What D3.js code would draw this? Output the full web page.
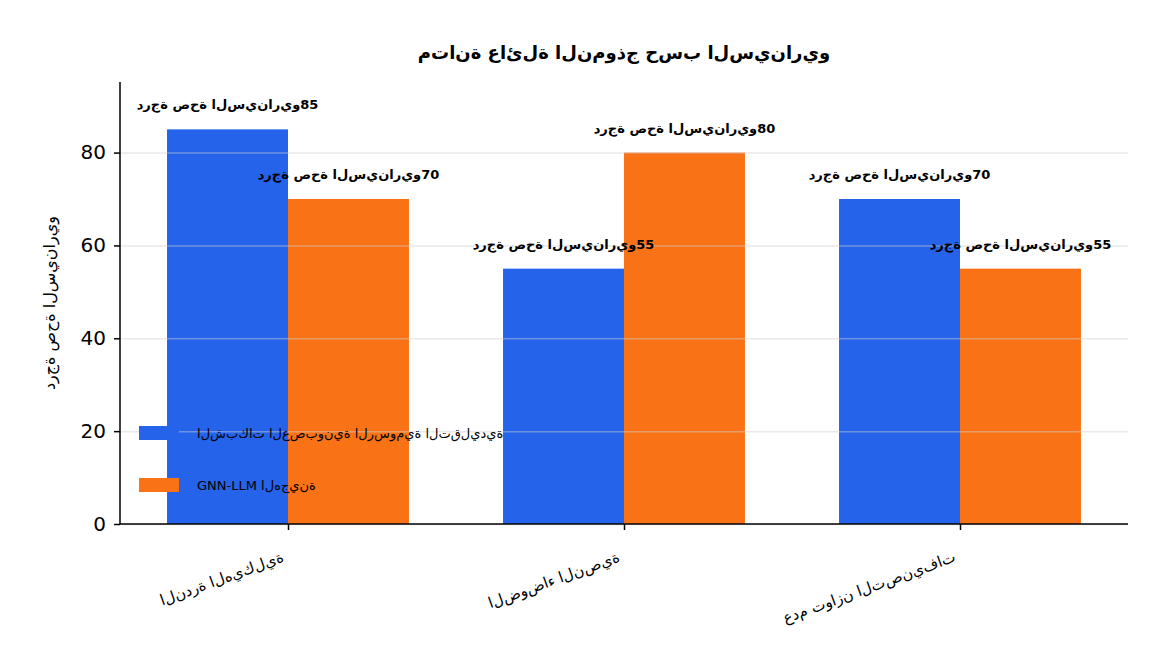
<!DOCTYPE html>
<html>
<head>
<meta charset="utf-8">
<script src="https://cdn.jsdelivr.net/npm/d3@7"></script>
<style>
  body { margin: 0; background: #fff; }
  svg text { font-family: "DejaVu Sans", sans-serif; }
</style>
</head>
<body>
<div id="chart"></div>
<script>
const title = "متانة عائلة النموذج حسب السيناريو";
const yLabel = "درجة صحة السيناريو";
const categories = ["الندرة الهيكلية", "الضوضاء النصية", "عدم توازن التصنيفات"];
const seriesNames = ["الشبكات العصبونية الرسومية التقليدية", "GNN-LLM الهجينة"];
const traditionalGnn = [85, 55, 70];
const hybridGnnLlm = [70, 80, 55];
const yTicks = [0, 20, 40, 60, 80];
const colors = ["#2563eb", "#f97316"];

// The source laid Arabic out letter by letter, left to right and unjoined.
// Isolated presentation forms stop joining; an LRM after each letter keeps
// the letters in left-to-right order.
const isolated = {
    "ء": "\uFE80", "ئ": "\uFE89", "ا": "\uFE8D", "ب": "\uFE8F", "ة": "\uFE93",
    "ت": "\uFE95", "ج": "\uFE9D", "ح": "\uFEA1", "د": "\uFEA9", "ذ": "\uFEAB",
    "ر": "\uFEAD", "ز": "\uFEAF", "س": "\uFEB1", "ش": "\uFEB5", "ص": "\uFEB9",
    "ض": "\uFEBD", "ع": "\uFEC9", "ف": "\uFED1", "ق": "\uFED5", "ك": "\uFED9",
    "ل": "\uFEDD", "م": "\uFEE1", "ن": "\uFEE5", "ه": "\uFEE9", "و": "\uFEED",
    "ي": "\uFEF1"
};
const ltrText = s => Array.from(s).map(c => (isolated[c] || c) + "\u200E").join("");

const W = 1152, H = 672;
const margin = { top: 82, right: 24, bottom: 148, left: 120 };
const width = W - margin.left - margin.right;
const height = H - margin.top - margin.bottom;

const svg = d3.select("#chart").append("svg")
    .attr("width", W)
    .attr("height", H);

const g = svg.append("g")
    .attr("transform", `translate(${margin.left},${margin.top})`);

// Scales
const x = d3.scaleLinear().domain([-0.5, categories.length - 0.5]).range([0, width]);
const y = d3.scaleLinear().domain([0, 95.2]).range([height, 0]);
const barW = x(0.36) - x(0);

const series = [traditionalGnn, hybridGnnLlm];

// Bars
series.forEach((vals, s) => {
    g.selectAll(".bar" + s)
        .data(vals)
        .enter().append("rect")
        .attr("x", (d, i) => s === 0 ? x(i) - barW : x(i))
        .attr("y", d => y(d))
        .attr("width", barW)
        .attr("height", d => height - y(d))
        .attr("fill", colors[s]);
});

// Gridlines (drawn over the bars, faint)
g.append("g")
    .call(d3.axisLeft(y).tickValues(yTicks).tickSize(-width).tickFormat(""))
    .call(a => a.select(".domain").remove())
    .selectAll("line")
    .attr("stroke", "#cfcfcf")
    .attr("stroke-opacity", 0.45)
    .attr("stroke-width", 1.5);

// Axes
const yAxis = g.append("g")
    .call(d3.axisLeft(y).tickValues(yTicks).tickSize(6).tickPadding(8));
yAxis.select(".domain").attr("stroke-width", 1.5).attr("d", `M0,${height}V0`);
yAxis.selectAll("line").attr("stroke-width", 1.5);
yAxis.selectAll("text").attr("font-size", 20).attr("fill", "#000");

const xAxis = g.append("g")
    .attr("transform", `translate(0,${height})`)
    .call(d3.axisBottom(x).tickValues(d3.range(categories.length)).tickSize(6).tickFormat(""));
xAxis.select(".domain").attr("stroke-width", 1.5).attr("d", `M0,0H${width}`);
xAxis.selectAll("line").attr("stroke-width", 1.5);

// Rotated category labels
g.append("g").selectAll("text")
    .data(categories)
    .enter().append("text")
    .attr("transform", (d, i) => `translate(${x(i) - 7},${height + 27}) rotate(-20)`)
    .attr("text-anchor", "end")
    .attr("dy", "0.71em")
    .attr("font-size", 15)
    .text(d => ltrText(d));

// Value labels above bars
series.forEach((vals, s) => {
    g.selectAll(".lab" + s)
        .data(vals)
        .enter().append("text")
        .attr("x", (d, i) => s === 0 ? x(i) - barW / 2 : x(i) + barW / 2)
        .attr("y", d => y(d) - 20)
        .attr("text-anchor", "middle")
        .attr("font-size", 13)
        .attr("font-weight", "bold")
        .text(d => ltrText(yLabel) + d);
});

// Y label
svg.append("text")
    .attr("transform", `translate(55,${margin.top + height / 2}) rotate(-90)`)
    .attr("text-anchor", "middle")
    .attr("font-size", 16)
    .text(ltrText(yLabel));

// Title
svg.append("text")
    .attr("x", margin.left + width / 2)
    .attr("y", 59)
    .attr("text-anchor", "middle")
    .attr("font-size", 18)
    .attr("font-weight", "bold")
    .text(ltrText(title));

// Legend (no frame)
const legend = svg.append("g").attr("transform", "translate(139,426)");
seriesNames.forEach((name, s) => {
    const row = legend.append("g").attr("transform", `translate(0,${s * 52})`);
    row.append("rect").attr("width", 40).attr("height", 14).attr("fill", colors[s]);
    row.append("text")
        .attr("x", 58)
        .attr("y", 7)
        .attr("dy", "0.35em")
        .attr("font-size", 13)
        .text(ltrText(name));
});
</script>
</body>
</html>
